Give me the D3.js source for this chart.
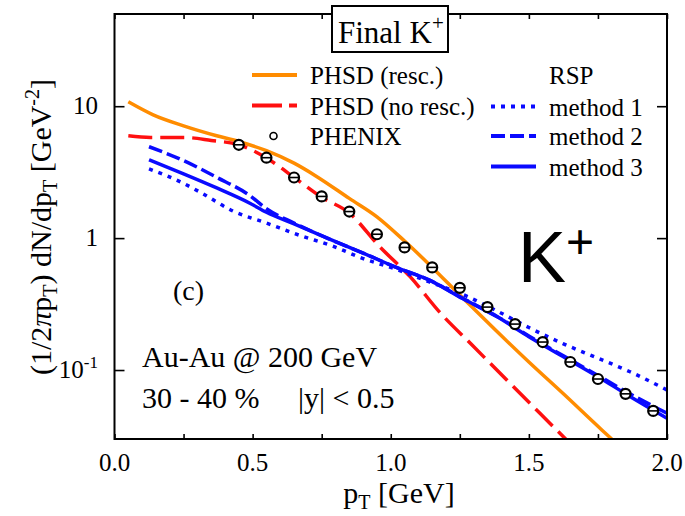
<!DOCTYPE html>
<html>
<head>
<meta charset="utf-8">
<script src="https://cdn.jsdelivr.net/npm/d3@7"></script>
<style>
  html, body { margin: 0; padding: 0; background: #fff; }
  svg { display: block; }
  text { font-family: "Liberation Serif", "Times New Roman", serif; fill: #000; }
</style>
</head>
<body>
<svg id="chart" width="685" height="516"></svg>
<script>
// ---------------- DATA ----------------
const xTickValues = [0, 0.25, 0.5, 0.75, 1.0, 1.25, 1.5, 1.75, 2.0];
const xTickLabels = ["0.0", "", "0.5", "", "1.0", "", "1.5", "", "2.0"];
const yTickValues = [10, 1, 0.1];
const yTickLabels = [["10", ""], ["1", ""], ["10", "-1"]];

// PHENIX data points: pT and yield
const phenixPt = [0.45, 0.55, 0.65, 0.75, 0.85, 0.95, 1.05, 1.15, 1.25, 1.35, 1.45, 1.55, 1.65, 1.75, 1.85, 1.95];
const phenixY  = [5.1, 4.07, 2.88, 2.07, 1.59, 1.07, 0.85, 0.60, 0.42, 0.30, 0.223, 0.163, 0.115, 0.0855, 0.066, 0.049];

// PHSD (resc.)
const phsdRescPt = [0.05, 0.14, 0.25, 0.37, 0.45, 0.55, 0.65, 0.73, 0.85, 0.95, 1.05, 1.15, 1.25, 1.38, 1.5, 1.625, 1.765, 1.8];
const phsdRescY  = [10.8, 8.6, 7.1, 5.97, 5.4, 4.6, 3.7, 2.95, 2.0, 1.45, 0.95, 0.6, 0.37, 0.2, 0.115, 0.066, 0.035, 0.03];

// PHSD (no resc.)
const phsdNoRescPt = [0.05, 0.13, 0.25, 0.35, 0.45, 0.55, 0.65, 0.75, 0.85, 0.96, 1.07, 1.18, 1.29, 1.42, 1.54, 1.64];
const phsdNoRescY  = [5.97, 5.8, 5.8, 5.5, 5.1, 4.05, 2.89, 2.04, 1.55, 0.86, 0.51, 0.27, 0.158, 0.084, 0.047, 0.029];

// RSP method 1 (dotted)
const m1Pt = [0.125, 0.25, 0.31, 0.43, 0.55, 0.67, 0.79, 0.9, 1.02, 1.14, 1.26, 1.385, 1.5, 1.625, 1.75, 1.866, 2.0];
const m1Y  = [3.35, 2.6, 2.23, 1.6, 1.3, 1.05, 0.87, 0.70, 0.58, 0.465, 0.375, 0.28, 0.21, 0.158, 0.123, 0.097, 0.0706];

// RSP method 2 (dashed)
const m2Pt = [0.125, 0.25, 0.37, 0.49, 0.55, 0.65, 0.77, 0.9, 1.02, 1.14, 1.26, 1.385, 1.5, 1.625, 1.75, 1.866, 2.0];
const m2Y  = [4.93, 3.87, 2.89, 2.1, 1.67, 1.3, 1.0, 0.77, 0.6, 0.48, 0.35, 0.255, 0.181, 0.128, 0.091, 0.066, 0.047];

// RSP method 3 (solid)
const m3Pt = [0.125, 0.25, 0.37, 0.49, 0.55, 0.65, 0.77, 0.9, 1.02, 1.14, 1.26, 1.385, 1.5, 1.625, 1.75, 1.866, 2.0];
const m3Y  = [3.92, 3.07, 2.4, 1.84, 1.57, 1.28, 1.0, 0.77, 0.6, 0.48, 0.348, 0.253, 0.179, 0.126, 0.089, 0.063, 0.0431];

const legendLeft  = ["PHSD (resc.)", "PHSD (no resc.)", "PHENIX"];
const legendRight = ["RSP", "method 1", "method 2", "method 3"];

// ---------------- LAYOUT ----------------
const svg = d3.select("#chart");
const W = 685, H = 516;
const plot = { left: 114.5, right: 667, top: 14, bottom: 439 };

svg.append("rect").attr("width", W).attr("height", H).attr("fill", "#fff");

const x = d3.scaleLinear().domain([0, 2]).range([plot.left, plot.right]);
const y = d3.scaleLog().domain([0.03, 50]).range([plot.bottom, plot.top]);

const ORANGE = "#ff8c00", RED = "#ff1010", BLUE = "#0a0aff";

svg.append("defs").append("clipPath").attr("id", "clip")
  .append("rect")
  .attr("x", plot.left).attr("y", plot.top)
  .attr("width", plot.right - plot.left).attr("height", plot.bottom - plot.top);

// ---------------- CURVES ----------------
const line = d3.line().x(d => x(d[0])).y(d => y(d[1])).curve(d3.curveMonotoneX);
const zip = (a, b) => a.map((v, i) => [v, b[i]]);

const curves = [
  { pts: zip(phsdRescPt, phsdRescY), color: ORANGE, dash: null },
  { pts: zip(phsdNoRescPt, phsdNoRescY), color: RED, dash: "24,8" },
  { pts: zip(m1Pt, m1Y), color: BLUE, dash: "4,6" },
  { pts: zip(m2Pt, m2Y), color: BLUE, dash: "14,5" },
  { pts: zip(m3Pt, m3Y), color: BLUE, dash: null }
];

const gCurves = svg.append("g").attr("clip-path", "url(#clip)");
curves.forEach(c => {
  gCurves.append("path")
    .attr("d", line(c.pts))
    .attr("fill", "none")
    .attr("stroke", c.color)
    .attr("stroke-width", 3.5)
    .attr("stroke-dasharray", c.dash);
});

// ---------------- DATA POINTS ----------------
const gPts = svg.append("g");
phenixPt.forEach((p, i) => {
  const cx = x(p), cy = y(phenixY[i]);
  gPts.append("circle").attr("cx", cx).attr("cy", cy).attr("r", 5)
    .attr("fill", "#fff").attr("stroke", "#000").attr("stroke-width", 2.2);
  gPts.append("line").attr("x1", cx - 5).attr("x2", cx + 5)
    .attr("y1", cy).attr("y2", cy).attr("stroke", "#000").attr("stroke-width", 1.6);
});

// ---------------- AXES ----------------
const axisStyle = g => {
  g.selectAll(".domain").remove();
  g.selectAll("line").attr("stroke", "#000").attr("stroke-width", 1.6);
};

svg.append("g").attr("transform", `translate(0,${plot.bottom})`)
  .call(d3.axisBottom(x).tickValues(xTickValues).tickSize(-5).tickFormat(""))
  .call(axisStyle);
svg.append("g").attr("transform", `translate(0,${plot.top})`)
  .call(d3.axisTop(x).tickValues(xTickValues).tickSize(-5).tickFormat(""))
  .call(axisStyle);
svg.append("g").attr("transform", `translate(${plot.left},0)`)
  .call(d3.axisLeft(y).tickValues(yTickValues).tickSize(-10).tickFormat(""))
  .call(axisStyle);
svg.append("g").attr("transform", `translate(${plot.right},0)`)
  .call(d3.axisRight(y).tickValues(yTickValues).tickSize(-10).tickFormat(""))
  .call(axisStyle);

// frame
svg.append("rect")
  .attr("x", plot.left).attr("y", plot.top)
  .attr("width", plot.right - plot.left).attr("height", plot.bottom - plot.top)
  .attr("fill", "none").attr("stroke", "#000").attr("stroke-width", 2);

// x tick labels
xTickValues.forEach((v, i) => {
  if (!xTickLabels[i]) return;
  svg.append("text").attr("x", x(v)).attr("y", 471)
    .attr("text-anchor", "middle").attr("font-size", 25)
    .text(xTickLabels[i]);
});

// y tick labels
yTickValues.forEach((v, i) => {
  const t = svg.append("text").attr("x", 98).attr("y", y(v) + 8)
    .attr("text-anchor", "end").attr("font-size", 25);
  t.append("tspan").text(yTickLabels[i][0]);
  if (yTickLabels[i][1]) {
    t.append("tspan").attr("font-size", 17).attr("dy", -10).text(yTickLabels[i][1]);
  }
});

// axis titles
const xl = svg.append("text").attr("x", 399).attr("y", 503)
  .attr("text-anchor", "middle").attr("font-size", 30);
xl.append("tspan").text("p");
xl.append("tspan").attr("font-size", 20).attr("dy", 6).text("T");
xl.append("tspan").attr("dy", -6).text(" [GeV]");

const yl = svg.append("text").attr("transform", "translate(51,227) rotate(-90)")
  .attr("text-anchor", "middle").attr("font-size", 30);
yl.append("tspan").text("(1/2");
yl.append("tspan").attr("font-style", "italic").text("π");
yl.append("tspan").text("p");
yl.append("tspan").attr("font-size", 20).attr("dy", 6).text("T");
yl.append("tspan").attr("dy", -6).text(") dN/dp");
yl.append("tspan").attr("font-size", 20).attr("dy", 6).text("T");
yl.append("tspan").attr("dy", -6).text(" [GeV");
yl.append("tspan").attr("font-size", 20).attr("dy", -12).text("-2");
yl.append("tspan").attr("dy", 12).text("]");

// ---------------- TITLE BOX ----------------
svg.append("rect").attr("x", 332).attr("y", 6).attr("width", 116).attr("height", 46)
  .attr("fill", "#fff").attr("stroke", "#000").attr("stroke-width", 2);
const tt = svg.append("text").attr("x", 338).attr("y", 43).attr("font-size", 31);
tt.append("tspan").text("Final K");
tt.append("tspan").attr("font-size", 21).attr("dy", -13).text("+");

// ---------------- LEGEND ----------------
const legRowY = [75, 105.5, 136];
const legL = svg.append("g");
legL.append("line").attr("x1", 252).attr("x2", 297).attr("y1", legRowY[0]).attr("y2", legRowY[0])
  .attr("stroke", ORANGE).attr("stroke-width", 4);
legL.append("line").attr("x1", 252).attr("x2", 297).attr("y1", legRowY[1]).attr("y2", legRowY[1])
  .attr("stroke", RED).attr("stroke-width", 4).attr("stroke-dasharray", "30,7");
legL.append("circle").attr("cx", 273.5).attr("cy", legRowY[2]).attr("r", 3.5)
  .attr("fill", "#fff").attr("stroke", "#000").attr("stroke-width", 1.6);
legendLeft.forEach((s, i) => {
  legL.append("text").attr("x", 310).attr("y", legRowY[i] + 9).attr("font-size", 25).text(s);
});

const legRRowY = [75, 106.5, 136, 166.5];
const legR = svg.append("g");
const rDash = [null, "4,6", "14,5", null];
legendRight.forEach((s, i) => {
  if (i > 0) {
    legR.append("line").attr("x1", 491).attr("x2", 536).attr("y1", legRRowY[i]).attr("y2", legRRowY[i])
      .attr("stroke", BLUE).attr("stroke-width", 4).attr("stroke-dasharray", rDash[i]);
  }
  legR.append("text").attr("x", 549).attr("y", legRRowY[i] + 9).attr("font-size", 25).text(s);
});

// ---------------- ANNOTATIONS ----------------
svg.append("text").attr("x", 173).attr("y", 300).attr("font-size", 28).text("(c)");
svg.append("text").attr("x", 142).attr("y", 367).attr("font-size", 30).text("Au-Au @ 200 GeV");
svg.append("text").attr("x", 142).attr("y", 408).attr("font-size", 30).text("30 - 40 %");
svg.append("text").attr("x", 298).attr("y", 408).attr("font-size", 30).text("|y| < 0.5");

const kp = svg.append("text").attr("x", 518).attr("y", 282)
  .style("font-family", "'Liberation Sans', Arial, sans-serif").attr("font-size", 72);
kp.append("tspan").text("K");
kp.append("tspan").attr("font-size", 48).attr("dy", -24).text("+");
</script>
</body>
</html>
